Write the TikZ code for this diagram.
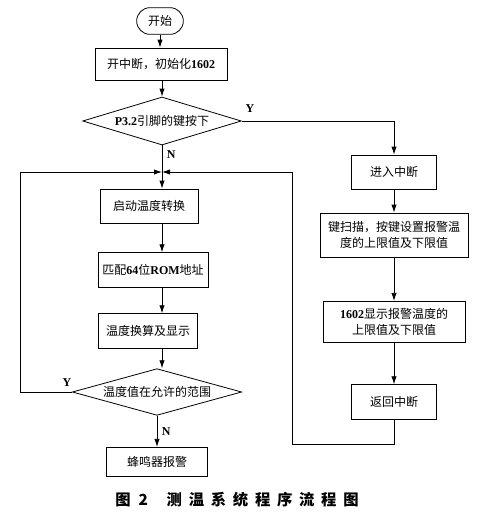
\documentclass[tikz,border=0pt]{standalone}
\usepackage{fontspec}
\setmainfont{Liberation Serif}
\newfontfamily\cjk{Noto Sans CJK SC}
\newfontfamily\capfont[LetterSpace=44]{Noto Sans CJK SC}
\usetikzlibrary{shapes.geometric, arrows.meta}
\newcommand{\lat}[1]{{\rmfamily\bfseries #1}}
\tikzstyle{startstop} = [rectangle, rounded corners=10pt, minimum width=35pt, minimum height=20pt, text centered, draw=black, font=\cjk\fontsize{9}{12.5}\selectfont]
\tikzstyle{process} = [rectangle, text centered, align=center, draw=black, inner sep=2pt, font=\cjk\fontsize{9}{12.5}\selectfont]
\tikzstyle{decision} = [diamond, aspect=3.4, inner sep=0pt, text centered, draw=black, font=\cjk\fontsize{9}{12.5}\selectfont]
\tikzstyle{yn} = [font=\bfseries\fontsize{9}{10}\selectfont]
\tikzstyle{arrow} = [-{Latex[length=6pt,width=4pt]}]

\begin{document}
\begin{tikzpicture}[x=0.75pt, y=-0.75pt, line width=0.6pt]

    \useasboundingbox (0,0) rectangle (476,525);

    % Start and initialisation
    \node (start) at (160,21) [startstop] {开始};
    \node (init) at (161,64) [process, minimum width=99pt, minimum height=24pt] {开中断，初始化\lat{1602}};
    \node (key) at (162,121) [decision, minimum width=119pt, minimum height=36pt] {\lat{P3.2}引脚的键按下};
    \draw[arrow] (start) -- (start |- init.north);
    \draw[arrow] (init.south -| key) -- (key);

    % Junction of the loops
    \coordinate (jn) at (162,172);
    \draw (key) -- (jn) node[pos=0.35, right, yn] {N};

    % Main loop
    \node (conv) at (149,206) [process, minimum width=73.5pt, minimum height=25.5pt] {启动温度转换};
    \node (rom) at (153,270) [process, minimum width=82.5pt, minimum height=26pt] {匹配\lat{64}位\lat{ROM}地址};
    \node (calc) at (148,331) [process, minimum width=74pt, minimum height=26pt] {温度换算及显示};
    \node (range) at (157,392) [decision, minimum width=127pt, minimum height=35pt] {温度值在允许的范围};
    \node (alarm) at (157,462) [process, minimum width=76pt, minimum height=22pt] {蜂鸣器报警};
    \draw[arrow] (jn) -- (jn |- conv.north);
    \draw[arrow] (conv.south -| jn) -- (jn |- rom.north);
    \draw[arrow] (rom.south -| jn) -- (jn |- calc.north);
    \draw[arrow] (calc.south -| jn) -- (range.north -| jn);
    \draw[arrow] (range.south) -- (alarm) node[midway, right, yn] {N};

    % Y: back to the start of the loop
    \coordinate (lb) at (20,392);
    \coordinate (lt) at (20,172);
    \draw[arrow] (range.west) -- (lb) -- (lt) -- (jn);
    \node (ylab) at (67,383) [yn] {Y};

    % Interrupt branch
    \node (enter) at (394,172) [process, minimum width=64pt, minimum height=25.5pt] {进入中断};
    \node (scan) at (394,235) [process, minimum width=111pt, minimum height=33pt] {键扫描，按键设置报警温\\度的上限值及下限值};
    \node (show) at (394,322) [process, minimum width=106.5pt, minimum height=31pt] {\lat{1602}显示报警温度的\\上限值及下限值};
    \node (ret) at (394,402) [process, minimum width=64pt, minimum height=26pt] {返回中断};
    \draw[arrow] (key.east) -| (enter);
    \node (ykey) at (250,109) [yn] {Y};
    \draw[arrow] (enter) -- (scan);
    \draw[arrow] (scan) -- (show);
    \draw[arrow] (show) -- (ret);

    % Return into the loop
    \coordinate (rb) at (292,444);
    \coordinate (rt) at (292,172);
    \draw[arrow] (ret.south) |- (rb) -- (rt) -- (jn);

    % Caption
    \node (cap) at (237,500) [font=\capfont\bfseries\fontsize{11.5}{13}\selectfont] {图\hspace{6pt}2\hspace{14pt}测温系统程序流程图};

\end{tikzpicture}
\end{document}
